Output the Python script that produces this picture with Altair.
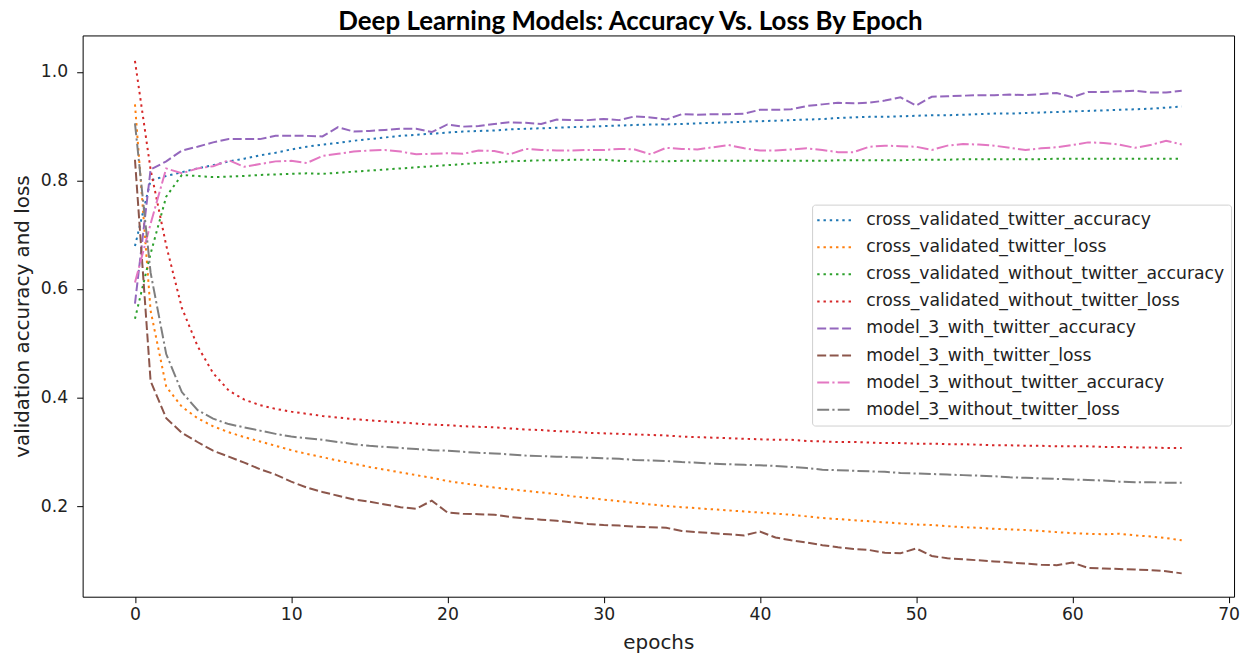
import altair as alt
import pandas as pd

epochs = list(range(68))

series_names = [
    "cross_validated_twitter_accuracy",
    "cross_validated_twitter_loss",
    "cross_validated_without_twitter_accuracy",
    "cross_validated_without_twitter_loss",
    "model_3_with_twitter_accuracy",
    "model_3_with_twitter_loss",
    "model_3_without_twitter_accuracy",
    "model_3_without_twitter_loss",
]

cv_twitter_acc = [0.679, 0.80, 0.808, 0.815, 0.822, 0.828, 0.835, 0.84, 0.846, 0.851,
                  0.857, 0.862, 0.866, 0.869, 0.873, 0.876, 0.879, 0.882, 0.884, 0.886,
                  0.888, 0.890, 0.891, 0.892, 0.894, 0.895, 0.896, 0.897, 0.898, 0.899,
                  0.900, 0.901, 0.902, 0.903, 0.903, 0.904, 0.905, 0.906, 0.907, 0.908,
                  0.909, 0.910, 0.911, 0.912, 0.913, 0.915, 0.916, 0.917, 0.917, 0.918,
                  0.919, 0.920, 0.920, 0.921, 0.922, 0.923, 0.923, 0.924, 0.925, 0.926,
                  0.927, 0.928, 0.929, 0.930, 0.931, 0.932, 0.934, 0.936]

cv_twitter_loss = [0.94, 0.56, 0.42, 0.383, 0.362, 0.347, 0.336, 0.327, 0.319, 0.311,
                   0.303, 0.296, 0.290, 0.284, 0.278, 0.272, 0.267, 0.262, 0.257, 0.252,
                   0.246, 0.242, 0.238, 0.234, 0.231, 0.228, 0.225, 0.222, 0.218, 0.215,
                   0.212, 0.209, 0.206, 0.203, 0.200, 0.198, 0.196, 0.194, 0.192, 0.190,
                   0.188, 0.186, 0.184, 0.181, 0.178, 0.176, 0.174, 0.172, 0.170, 0.168,
                   0.166, 0.165, 0.163, 0.161, 0.160, 0.158, 0.157, 0.156, 0.154, 0.152,
                   0.150, 0.149, 0.148, 0.149, 0.146, 0.144, 0.141, 0.137]

cv_without_acc = [0.545, 0.665, 0.77, 0.81, 0.808, 0.806, 0.807, 0.808, 0.81, 0.811,
                  0.812, 0.813, 0.812, 0.814, 0.816, 0.818, 0.820, 0.822, 0.824, 0.826,
                  0.828, 0.830, 0.832, 0.833, 0.835, 0.836, 0.837, 0.837, 0.838, 0.838,
                  0.838, 0.836, 0.835, 0.835, 0.835, 0.836, 0.836, 0.836, 0.836, 0.836,
                  0.836, 0.836, 0.836, 0.836, 0.836, 0.837, 0.837, 0.837, 0.837, 0.837,
                  0.838, 0.838, 0.838, 0.839, 0.839, 0.839, 0.839, 0.839, 0.839, 0.840,
                  0.840, 0.840, 0.840, 0.840, 0.840, 0.840, 0.840, 0.840]

cv_without_loss = [1.02, 0.82, 0.68, 0.565, 0.495, 0.445, 0.413, 0.396, 0.386, 0.379,
                   0.374, 0.370, 0.366, 0.363, 0.360, 0.358, 0.356, 0.354, 0.352, 0.350,
                   0.349, 0.347, 0.346, 0.345, 0.343, 0.341, 0.340, 0.338, 0.337, 0.335,
                   0.334, 0.333, 0.332, 0.331, 0.330, 0.328, 0.327, 0.326, 0.325, 0.324,
                   0.323, 0.322, 0.322, 0.320, 0.319, 0.318, 0.318, 0.317, 0.316, 0.316,
                   0.315, 0.315, 0.314, 0.314, 0.313, 0.312, 0.312, 0.311, 0.311, 0.310,
                   0.310, 0.310, 0.309, 0.309, 0.308, 0.308, 0.307, 0.307]

m3_with_acc = [0.573, 0.82, 0.835, 0.855, 0.862, 0.870, 0.876, 0.876, 0.876, 0.882,
               0.882, 0.882, 0.881, 0.898, 0.890, 0.891, 0.893, 0.895, 0.895, 0.889,
               0.903, 0.899, 0.900, 0.904, 0.907, 0.906, 0.904, 0.912, 0.911, 0.911,
               0.913, 0.911, 0.918, 0.916, 0.912, 0.922, 0.921, 0.922, 0.922, 0.923,
               0.930, 0.930, 0.931, 0.937, 0.940, 0.943, 0.942, 0.943, 0.947, 0.953,
               0.938, 0.954, 0.955, 0.956, 0.957, 0.957, 0.958, 0.957, 0.959, 0.961,
               0.953, 0.963, 0.963, 0.964, 0.965, 0.962, 0.962, 0.965]

m3_with_loss = [0.838, 0.43, 0.362, 0.335, 0.318, 0.302, 0.291, 0.280, 0.268, 0.258,
                0.245, 0.234, 0.226, 0.219, 0.212, 0.208, 0.203, 0.198, 0.195, 0.210,
                0.188, 0.186, 0.185, 0.184, 0.180, 0.177, 0.175, 0.173, 0.170, 0.167,
                0.165, 0.164, 0.162, 0.161, 0.160, 0.154, 0.152, 0.150, 0.148, 0.146,
                0.153, 0.142, 0.137, 0.133, 0.128, 0.124, 0.121, 0.119, 0.114, 0.113,
                0.122, 0.108, 0.104, 0.102, 0.100, 0.098, 0.096, 0.094, 0.092, 0.091,
                0.096, 0.086, 0.085, 0.084, 0.083, 0.082, 0.080, 0.076]

m3_without_acc = [0.612, 0.72, 0.822, 0.813, 0.822, 0.826, 0.837, 0.825, 0.830, 0.835,
                  0.836, 0.832, 0.845, 0.849, 0.853, 0.855, 0.856, 0.853, 0.848, 0.849,
                  0.850, 0.849, 0.855, 0.854, 0.848, 0.858, 0.856, 0.855, 0.855, 0.856,
                  0.856, 0.858, 0.857, 0.848, 0.860, 0.858, 0.857, 0.861, 0.865, 0.859,
                  0.855, 0.855, 0.857, 0.859, 0.856, 0.852, 0.852, 0.862, 0.864, 0.863,
                  0.862, 0.856, 0.864, 0.867, 0.866, 0.864, 0.860, 0.856, 0.859, 0.861,
                  0.865, 0.870, 0.869, 0.866, 0.860, 0.865, 0.873, 0.866]

m3_without_loss = [0.905, 0.63, 0.48, 0.41, 0.377, 0.361, 0.351, 0.345, 0.339, 0.333,
                   0.328, 0.325, 0.322, 0.318, 0.314, 0.311, 0.309, 0.307, 0.305, 0.303,
                   0.302, 0.300, 0.298, 0.297, 0.295, 0.293, 0.292, 0.291, 0.290, 0.289,
                   0.288, 0.287, 0.285, 0.284, 0.283, 0.281, 0.280, 0.278, 0.277, 0.276,
                   0.275, 0.274, 0.272, 0.270, 0.267, 0.266, 0.265, 0.264, 0.263, 0.261,
                   0.260, 0.259, 0.258, 0.257, 0.256, 0.255, 0.253, 0.252, 0.251, 0.250,
                   0.249, 0.248, 0.247, 0.245, 0.244, 0.244, 0.243, 0.243]

all_values = [cv_twitter_acc, cv_twitter_loss, cv_without_acc, cv_without_loss,
              m3_with_acc, m3_with_loss, m3_without_acc, m3_without_loss]

colors = ["#1f77b4", "#ff7f0e", "#2ca02c", "#d62728",
          "#9467bd", "#8c564b", "#e377c2", "#7f7f7f"]
dot = [2.4, 3.9]
dash = [9, 3.5]
dashdot = [12, 3.2, 2.2, 3.2]
dashes = [dot, dot, dot, dot, dash, dash, dashdot, dashdot]

x_ticks = [0, 10, 20, 30, 40, 50, 60, 70]
y_ticks = [0.2, 0.4, 0.6, 0.8, 1.0]

rows = []
for name, vals in zip(series_names, all_values):
    for e, v in zip(epochs, vals):
        rows.append({"epoch": e, "value": v, "series": name})
df = pd.DataFrame(rows)

legend = alt.Legend(
    title=None,
    orient="none",
    legendX=733,
    legendY=170,
    fillColor="white",
    strokeColor="#d0d0d0",
    cornerRadius=3,
    padding=7,
    labelFont="DejaVu Sans",
    labelFontSize=17.3,
    labelColor="#222222",
    labelLimit=500,
    symbolType="M-3,0H3",
    symbolSize=136,
    symbolStrokeWidth=2,
    symbolOffset=7,
    labelOffset=23,
    rowPadding=9.2,
)

chart = alt.Chart(df).mark_line(strokeWidth=2).encode(
    x=alt.X("epoch:Q",
            scale=alt.Scale(domain=[-3.35, 70.35], nice=False, zero=False),
            axis=alt.Axis(values=x_ticks, title="epochs", format="d")),
    y=alt.Y("value:Q",
            scale=alt.Scale(domain=[0.033, 1.067], nice=False, zero=False),
            axis=alt.Axis(values=y_ticks, title="validation accuracy and loss", format=".1f")),
    color=alt.Color("series:N", scale=alt.Scale(domain=series_names, range=colors), legend=legend),
    strokeDash=alt.StrokeDash("series:N", scale=alt.Scale(domain=series_names, range=dashes), legend=legend),
    order=alt.Order("epoch:Q"),
).properties(
    width=1157,
    height=564,
    title=alt.Title("Deep Learning Models: Accuracy Vs. Loss By Epoch",
                    font="Lato", fontSize=26, fontWeight="bold", color="black",
                    anchor="middle", offset=7, baseline="alphabetic", dy=28, dx=-28),
    autosize=alt.AutoSizeParams(type="none"),
    padding={"left": 75, "top": 26, "right": 8, "bottom": 58},
).configure_view(
    stroke="black", strokeWidth=1
).configure_axis(
    grid=False,
    domain=False,
    tickColor="black",
    tickSize=6,
    labelFont="DejaVu Sans",
    labelFontSize=17.3,
    labelColor="#222222",
    titleFont="DejaVu Sans",
    titleFontSize=20,
    titleFontWeight="normal",
    titleColor="#222222",
).configure_axisX(
    labelPadding=3, titlePadding=10
).configure_axisY(
    labelPadding=9, titlePadding=8
)

chart.save("out.html", embed_options={"renderer": "svg", "actions": False})
